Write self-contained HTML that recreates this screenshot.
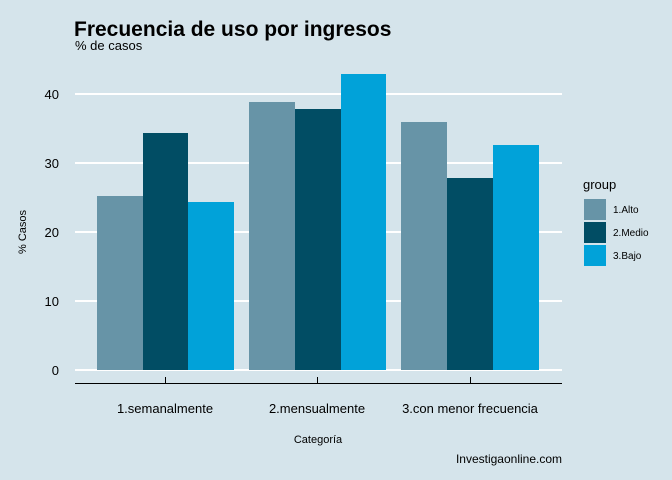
<!DOCTYPE html>
<html><head><meta charset="utf-8"><style>
body{margin:0;background:#d5e4eb;}
svg{display:block;font-family:"Liberation Sans",sans-serif;}
</style></head><body>
<svg width="672" height="480" viewBox="0 0 672 480">
<rect width="672" height="480" fill="#d5e4eb"/>
<text x="74" y="36" font-size="21" font-weight="bold" fill="#000">Frecuencia de uso por ingresos</text>
<text x="75" y="50" font-size="13" fill="#000">% de casos</text>
<g stroke="#fff" stroke-width="2">
<line x1="75" x2="562" y1="94" y2="94"/>
<line x1="75" x2="562" y1="163" y2="163"/>
<line x1="75" x2="562" y1="232" y2="232"/>
<line x1="75" x2="562" y1="301" y2="301"/>
<line x1="75" x2="562" y1="370" y2="370"/>
</g>
<g font-size="13" fill="#000" text-anchor="end">
<text x="59" y="99">40</text><text x="59" y="168">30</text><text x="59" y="237">20</text><text x="59" y="306">10</text><text x="59" y="375">0</text>
</g>
<rect x="97" y="196" width="46" height="174" fill="#6794a7"/>
<rect x="143" y="133" width="45" height="237" fill="#014d64"/>
<rect x="188" y="202" width="46" height="168" fill="#01a2d9"/>
<rect x="249" y="102" width="46" height="268" fill="#6794a7"/>
<rect x="295" y="109" width="46" height="261" fill="#014d64"/>
<rect x="341" y="74" width="45" height="296" fill="#01a2d9"/>
<rect x="401" y="122" width="46" height="248" fill="#6794a7"/>
<rect x="447" y="178" width="46" height="192" fill="#014d64"/>
<rect x="493" y="145" width="46" height="225" fill="#01a2d9"/>
<g stroke="#000" stroke-width="1">
<line x1="75" x2="562" y1="383.5" y2="383.5"/>
<line x1="165.5" x2="165.5" y1="377" y2="383"/>
<line x1="317.5" x2="317.5" y1="377" y2="383"/>
<line x1="470.5" x2="470.5" y1="377" y2="383"/>
</g>
<g font-size="13" fill="#000" text-anchor="middle">
<text x="165" y="413">1.semanalmente</text>
<text x="317" y="413">2.mensualmente</text>
<text x="470" y="413">3.con menor frecuencia</text>
</g>
<text x="318" y="443" font-size="11" text-anchor="middle">Categoría</text>
<text x="26" y="232" font-size="11" text-anchor="middle" transform="rotate(-90 26 232)">% Casos</text>
<text x="562" y="463" font-size="12" text-anchor="end">Investigaonline.com</text>
<text x="583" y="189" font-size="13">group</text>
<rect x="584" y="199" width="22" height="21" fill="#6794a7"/>
<rect x="584" y="222" width="22" height="21" fill="#014d64"/>
<rect x="584" y="245" width="22" height="21" fill="#01a2d9"/>
<g font-size="10"><text x="613" y="213">1.Alto</text><text x="613" y="236">2.Medio</text><text x="613" y="259">3.Bajo</text></g>
</svg>
</body></html>
